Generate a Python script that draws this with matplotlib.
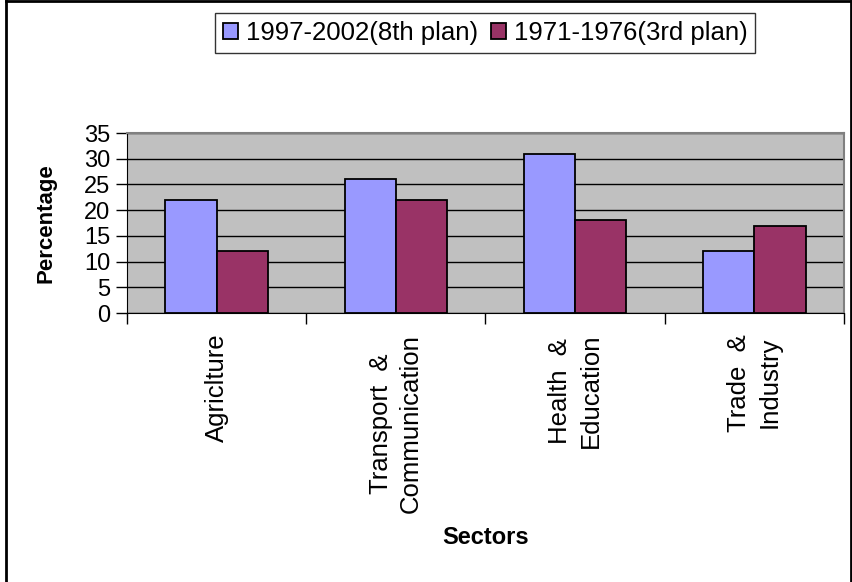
import numpy as np
import matplotlib
matplotlib.use("Agg")
import matplotlib.pyplot as plt
from matplotlib.lines import Line2D

sectors = ["Agriclture", "Transport  &\nCommunication", "Health  &\nEducation", "Trade  &\nIndustry"]
plan8 = [22, 26, 31, 12]
plan3 = [12, 22, 18, 17]
series_names = ["1997-2002(8th plan)", "1971-1976(3rd plan)"]
yticks = [0, 5, 10, 15, 20, 25, 30, 35]

plt.rcParams['font.family'] = ['Liberation Sans', 'DejaVu Sans']

W, H = 853, 582
fig = plt.figure(figsize=(W/100, H/100), dpi=100)
ax = fig.add_axes([127/W, 1-313/H, 717/W, 180/H])
ax.set_facecolor("#C0C0C0")

x = np.arange(len(sectors))
w = 1/3.5
ax.bar(x - w/2, plan8, w, color="#9999FF", edgecolor="black", linewidth=1.3,
       label=series_names[0], zorder=3)
ax.bar(x + w/2, plan3, w, color="#993366", edgecolor="black", linewidth=1.3,
       label=series_names[1], zorder=3)

ax.set_xlim(-0.5, len(sectors) - 0.5)
ax.set_ylim(0, 35)
ax.set_yticks(yticks)
ax.yaxis.grid(True, color="black", linewidth=1.0, zorder=1)
ax.set_axisbelow(True)
ax.tick_params(axis="y", labelsize=17, length=8, width=1, direction="out", pad=4)

# category boundaries as major ticks, labels at centres as minor ticks
ax.set_xticks(np.arange(len(sectors) + 1) - 0.5)
ax.set_xticklabels([])
ax.tick_params(axis="x", which="major", length=8, width=1, direction="out")
ax.set_xticks(x, minor=True)
ax.set_xticklabels(sectors, minor=True, rotation=90, fontsize=18.5, va="top",
                   ha="center", linespacing=1.35)
ax.tick_params(axis="x", which="minor", length=0, pad=15)

for s in ["top", "right"]:
    ax.spines[s].set_color("#808080")
    ax.spines[s].set_linewidth(1.5)
ax.spines["left"].set_color("black")
ax.spines["bottom"].set_color("black")

ax.set_ylabel("Percentage", fontsize=16, fontweight="bold", labelpad=20)
fig.text(486/W, 1-538/H, "Sectors", fontsize=17, fontweight="bold", ha="center", va="center")

leg = fig.legend(loc="center", bbox_to_anchor=(485/W, 1-33/H), ncol=2, fontsize=18.5,
                 frameon=True, fancybox=False, edgecolor="black", handlelength=0.6,
                 handleheight=0.6, handletextpad=0.3, columnspacing=0.5,
                 borderpad=0.3, borderaxespad=0)
leg.get_frame().set_linewidth(1.0)

# chart area border
fig.add_artist(Line2D([6/W, 6/W], [0, 1-1/H], color="black", linewidth=2, transform=fig.transFigure))
fig.add_artist(Line2D([6/W, 851/W], [1-1/H, 1-1/H], color="black", linewidth=2, transform=fig.transFigure))
fig.add_artist(Line2D([851/W, 851/W], [0, 1-1/H], color="black", linewidth=2, transform=fig.transFigure))

fig.savefig("out.png", dpi=100)
